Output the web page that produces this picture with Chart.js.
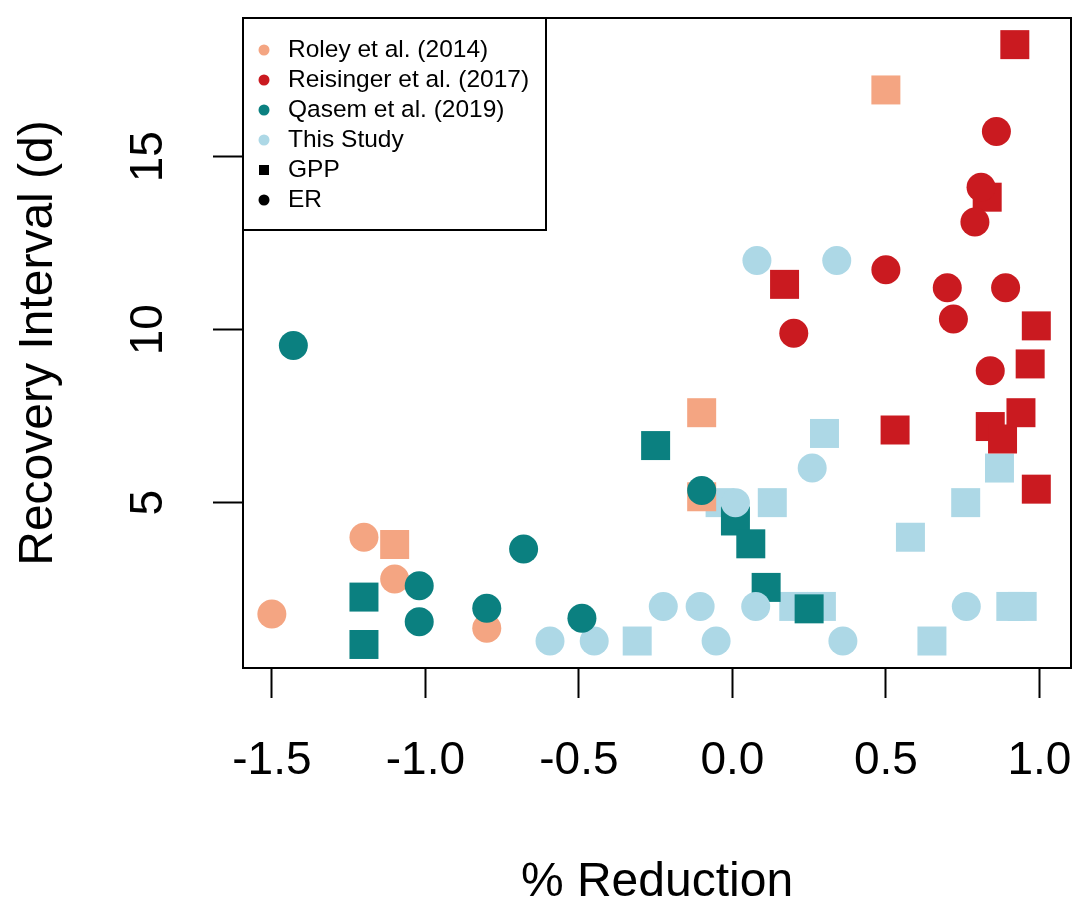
<!DOCTYPE html>
<html>
<head>
<meta charset="utf-8">
<script src="https://cdn.jsdelivr.net/npm/chart.js@4.4.1/dist/chart.umd.min.js"></script>
<style>
  html, body { margin: 0; padding: 0; background: #fff; }
  .chart-container { width: 1087px; height: 914px; }
</style>
</head>
<body>
<div class="chart-container"><canvas id="myChart"></canvas></div>
<script>
// values: x = % reduction, y = recovery interval (d)
const roleyER_x = [-1.5, -1.2, -1.1, -0.8];
const roleyER_y = [1.78, 4.0, 2.79, 1.37];
const roleyGPP_x = [-1.1, -0.1, -0.1, 0.5];
const roleyGPP_y = [3.79, 7.6, 5.17, 16.93];

const reisingerER_x = [0.2, 0.5, 0.7, 0.72, 0.79, 0.81, 0.84, 0.86, 0.89];
const reisingerER_y = [9.9, 11.73, 11.21, 10.31, 13.11, 14.12, 8.81, 15.73, 11.21];
const reisingerGPP_x = [0.17, 0.53, 0.83, 0.84, 0.88, 0.92, 0.94, 0.97, 0.99, 0.99];
const reisingerGPP_y = [11.31, 7.1, 13.83, 7.2, 6.84, 18.24, 7.6, 9.01, 10.11, 5.39];

const qasemER_x = [-1.43, -1.02, -1.02, -0.8, -0.68, -0.49, -0.1];
const qasemER_y = [9.54, 2.6, 1.56, 1.95, 3.66, 1.66, 5.35];
const qasemGPP_x = [-1.2, -1.2, -0.25, 0.01, 0.06, 0.11, 0.25];
const qasemGPP_y = [2.27, 0.9, 6.65, 4.47, 3.81, 2.55, 1.93];

const studyER_x = [0.08, 0.34, 0.26, 0.01, -0.225, -0.105, 0.076, 0.762, -0.594, -0.45, -0.053, 0.36];
const studyER_y = [12, 12, 6, 5, 2, 2, 2, 2, 1, 1, 1, 1];
const studyGPP_x = [0.3, 0.87, -0.04, 0.13, 0.76, 0.58, 0.2, 0.29, 0.907, 0.944, -0.31, 0.65];
const studyGPP_y = [7, 6, 5, 5, 5, 4, 2, 2, 2, 2, 1, 1];

const xTicks = [-1.5, -1.0, -0.5, 0.0, 0.5, 1.0];
const yTicks = [5, 10, 15];

const legendLabels = ["Roley et al. (2014)", "Reisinger et al. (2017)", "Qasem et al. (2019)", "This Study", "GPP", "ER"];
const legendColors = ["#F4A582", "#CA1A20", "#0B8080", "#ADD8E6", "#000000", "#000000"];
const legendShapes = ["circle", "circle", "circle", "circle", "square", "circle"];

const FONT = "'Liberation Sans', Arial, Helvetica, sans-serif";
const colors = { roley: "#F4A582", reisinger: "#CA1A20", qasem: "#0B8080", study: "#ADD8E6" };

const pts = (xs, ys) => xs.map((x, i) => ({ x: x, y: ys[i] }));

const circle = (label, data, color) => ({
  label, data, backgroundColor: color, borderWidth: 0,
  pointStyle: "circle", pointRadius: 14.5, pointHoverRadius: 14.5, clip: false,
});
const square = (label, data, color) => ({
  label, data, backgroundColor: color, borderWidth: 0,
  pointStyle: "rect", pointRadius: 20.5, pointHoverRadius: 20.5, clip: false,
});

// first dataset ends up on top
const datasets = [
  circle("Qasem ER", pts(qasemER_x, qasemER_y), colors.qasem),
  circle("Reisinger ER", pts(reisingerER_x, reisingerER_y), colors.reisinger),
  circle("Roley ER", pts(roleyER_x, roleyER_y), colors.roley),
  circle("This Study ER", pts(studyER_x, studyER_y), colors.study),
  square("Qasem GPP", pts(qasemGPP_x, qasemGPP_y), colors.qasem),
  square("Reisinger GPP", pts(reisingerGPP_x, reisingerGPP_y), colors.reisinger),
  square("Roley GPP", pts(roleyGPP_x, roleyGPP_y), colors.roley),
  square("This Study GPP", pts(studyGPP_x, studyGPP_y), colors.study),
];

const boxAndLegend = {
  id: "boxAndLegend",
  afterDraw(chart) {
    const { ctx, chartArea } = chart;
    ctx.save();
    ctx.strokeStyle = "#000";
    ctx.lineWidth = 2;
    ctx.strokeRect(chartArea.left, chartArea.top, chartArea.right - chartArea.left, chartArea.bottom - chartArea.top);

    // legend box, top-left inside the plot
    const lx = chartArea.left, ly = chartArea.top;
    ctx.fillStyle = "#fff";
    ctx.fillRect(lx, ly, 303, 212);
    ctx.strokeRect(lx, ly, 303, 212);
    ctx.font = "24.5px " + FONT;
    ctx.textBaseline = "middle";
    ctx.textAlign = "left";
    legendLabels.forEach((text, i) => {
      const cy = ly + 32 + i * 30;
      ctx.fillStyle = legendColors[i];
      if (legendShapes[i] === "square") {
        ctx.fillRect(lx + 16, cy - 5, 10, 10);
      } else {
        ctx.beginPath();
        ctx.arc(lx + 21, cy, 5.5, 0, Math.PI * 2);
        ctx.fill();
      }
      ctx.fillStyle = "#000";
      ctx.fillText(text, lx + 45, cy);
    });
    ctx.restore();
  },
};

const ctx = document.getElementById("myChart").getContext("2d");
new Chart(ctx, {
  type: "scatter",
  data: { datasets },
  plugins: [boxAndLegend],
  options: {
    responsive: true,
    maintainAspectRatio: false,
    animation: false,
    events: [],
    layout: { autoPadding: false, padding: { top: 18, right: 16, left: 0, bottom: 0 } },
    plugins: { legend: { display: false }, tooltip: { enabled: false } },
    scales: {
      x: {
        type: "linear",
        min: -1.594,
        max: 1.103,
        afterBuildTicks: (s) => { s.ticks = xTicks.map((v) => ({ value: v })); },
        afterFit: (s) => { s.height = 246; s.paddingLeft = 0; s.paddingRight = 0; },
        ticks: {
          color: "#000",
          font: { size: 46, family: FONT },
          padding: 36,
          maxRotation: 0,
          callback: (v) => v.toFixed(1),
        },
        grid: { display: true, drawOnChartArea: false, drawTicks: true, tickLength: 30, tickColor: "#000", tickWidth: 2 },
        border: { display: false },
        title: { display: true, text: "% Reduction", color: "#000", font: { size: 48, family: FONT }, padding: { top: 0, bottom: 2 } },
      },
      y: {
        type: "linear",
        min: 0.22,
        max: 19.01,
        afterBuildTicks: (s) => { s.ticks = yTicks.map((v) => ({ value: v })); },
        afterFit: (s) => { s.width = 243; s.paddingTop = 0; s.paddingBottom = 0; },
        ticks: {
          color: "#000",
          font: { size: 46, family: FONT },
          padding: 38,
          minRotation: 90,
          maxRotation: 90,
          crossAlign: "center",
        },
        grid: { display: true, drawOnChartArea: false, drawTicks: true, tickLength: 30, tickColor: "#000", tickWidth: 2 },
        border: { display: false },
        title: { display: true, text: "Recovery Interval (d)", color: "#000", font: { size: 48, family: FONT }, padding: { top: 10, bottom: 0 } },
      },
    },
  },
});
</script>
</body>
</html>
